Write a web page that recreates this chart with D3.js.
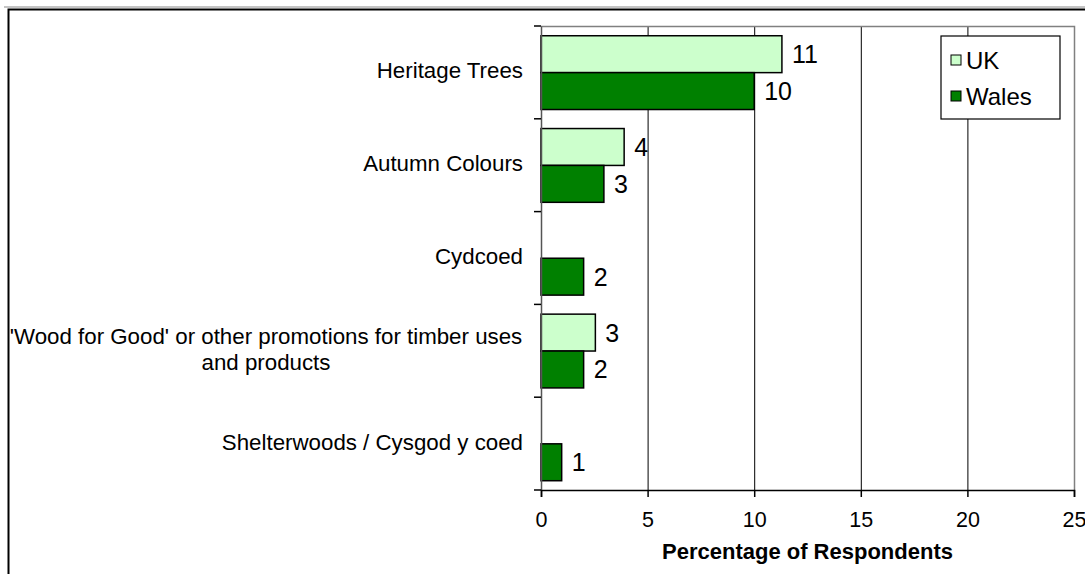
<!DOCTYPE html>
<html>
<head>
<meta charset="utf-8">
<script src="https://cdn.jsdelivr.net/npm/d3@7"></script>
<style>
body{margin:0;background:#fff;}
svg{display:block;font-family:Arial,"Liberation Sans",sans-serif;}
</style>
</head>
<body>
<svg id="svg" width="1085" height="574"></svg>
<script>
var categories=["Heritage Trees","Autumn Colours","Cydcoed","'Wood for Good' or other promotions for timber uses|and products","Shelterwoods / Cysgod y coed"];
var series=["UK","Wales"];
var ukValues=[11.3,3.9,null,2.55,null];
var walesValues=[10.0,2.95,2.0,2.0,0.97];
var ukLabels=["11","4","","3",""];
var walesLabels=["10","3","2","2","1"];
var xTicks=[0,5,10,15,20,25];
var colors={"UK":"#ccffcc","Wales":"#008000"};

var svg=d3.select("#svg");
var padding={top:26,left:541,right:11,bottom:84};
var chartArea={width:1074-padding.left,height:490-padding.top};

// outer frame
svg.append("line").attr("x1",4).attr("x2",1085).attr("y1",7).attr("y2",7).attr("stroke","#b0b0b0").attr("stroke-width",1.5);
svg.append("path").attr("d","M8.5,574 V9.5 H1085").attr("fill","none").attr("stroke","#000").attr("stroke-width",2);

var xScale=d3.scaleLinear().domain([0,25]).range([0,chartArea.width]);
var yScale=d3.scaleBand().domain(categories).range([0,chartArea.height]).padding(0);
var subScale=d3.scaleBand().domain(series).range([yScale.bandwidth()*0.105,yScale.bandwidth()*0.9]);

var g=svg.append("g").attr("transform","translate("+padding.left+","+padding.top+")");

// grid
g.selectAll(".grid").data(xTicks.slice(1,-1)).enter().append("line")
  .attr("x1",function(d){return xScale(d)+0.5}).attr("x2",function(d){return xScale(d)+0.5})
  .attr("y1",0).attr("y2",chartArea.height).attr("stroke","#000").attr("stroke-width",1);

// plot border top / right
g.append("path").attr("d","M0,0.5 H"+(chartArea.width+0.5)+" V"+chartArea.height)
  .attr("fill","none").attr("stroke","#808080").attr("stroke-width",1.5);

var rows=categories.map(function(c,i){return {cat:c,vals:[{s:"UK",v:ukValues[i],l:ukLabels[i]},{s:"Wales",v:walesValues[i],l:walesLabels[i]}]}});

var grp=g.selectAll(".cat").data(rows).enter().append("g")
  .attr("transform",function(d){return "translate(0,"+yScale(d.cat)+")"});

var bars=grp.selectAll("g").data(function(d){return d.vals.filter(function(v){return v.v!=null})}).enter().append("g");
bars.append("rect")
  .attr("x",0).attr("y",function(d){return subScale(d.s)})
  .attr("width",function(d){return xScale(d.v)}).attr("height",subScale.bandwidth())
  .attr("fill",function(d){return colors[d.s]}).attr("stroke","#000").attr("stroke-width",1.5);
bars.append("text")
  .attr("x",function(d){return xScale(d.v)+10}).attr("y",function(d){return subScale(d.s)+subScale.bandwidth()/2})
  .attr("dy","0.36em").attr("font-size",25).text(function(d){return d.l});

// y axis
var yAxis=g.append("g").call(d3.axisLeft(yScale).tickSize(0).tickFormat(""));
yAxis.select(".domain").attr("stroke","#555").attr("stroke-width",1.5);
g.selectAll(".ytick").data(d3.range(categories.length+1)).enter().append("line")
  .attr("x1",-7).attr("x2",0)
  .attr("y1",function(d){return d*yScale.step()}).attr("y2",function(d){return d*yScale.step()})
  .attr("stroke","#000").attr("stroke-width",1.5);

// category labels
grp.each(function(d){
  var parts=d.cat.split("|");
  var multi=parts.length>1;
  var t=d3.select(this).append("text").attr("text-anchor",multi?"middle":"end").attr("font-size",22.3).attr("fill","#000");
  parts.forEach(function(p,j){
    t.append("tspan").attr("x",multi?-275:-18)
      .attr("y",yScale.bandwidth()/2-2+(j-(parts.length-1)/2)*26).attr("dy","0.36em").text(p);
  });
});

// x axis
var xAxis=g.append("g").attr("transform","translate(0,"+chartArea.height+")")
  .call(d3.axisBottom(xScale).tickValues(xTicks).tickSize(7).tickPadding(15));
xAxis.select(".domain").attr("stroke","#000").attr("stroke-width",1.5);
xAxis.selectAll(".tick line").attr("stroke","#000").attr("stroke-width",1.5);
xAxis.selectAll("text").attr("font-size",21.5).attr("fill","#000").attr("font-family","Arial,'Liberation Sans',sans-serif");

g.append("text").attr("x",chartArea.width/2).attr("y",chartArea.height+61)
  .attr("dy","0.36em").attr("text-anchor","middle").attr("font-size",22).attr("font-weight","bold").text("Percentage of Respondents");

// legend
var lg=svg.append("g").attr("transform","translate(941,36)");
lg.append("rect").attr("width",119).attr("height",83).attr("fill","#fff").attr("stroke","#000").attr("stroke-width",1.2);
var li=lg.selectAll(".li").data(series).enter().append("g")
  .attr("transform",function(d,i){return "translate(10,"+(24+i*36)+")"});
li.append("rect").attr("x",0).attr("y",-5).attr("width",10).attr("height",10)
  .attr("fill",function(d){return colors[d]}).attr("stroke","#000").attr("stroke-width",1);
li.append("text").attr("x",15).attr("dy","0.36em").attr("font-size",24).text(function(d){return d});
</script>
</body>
</html>
